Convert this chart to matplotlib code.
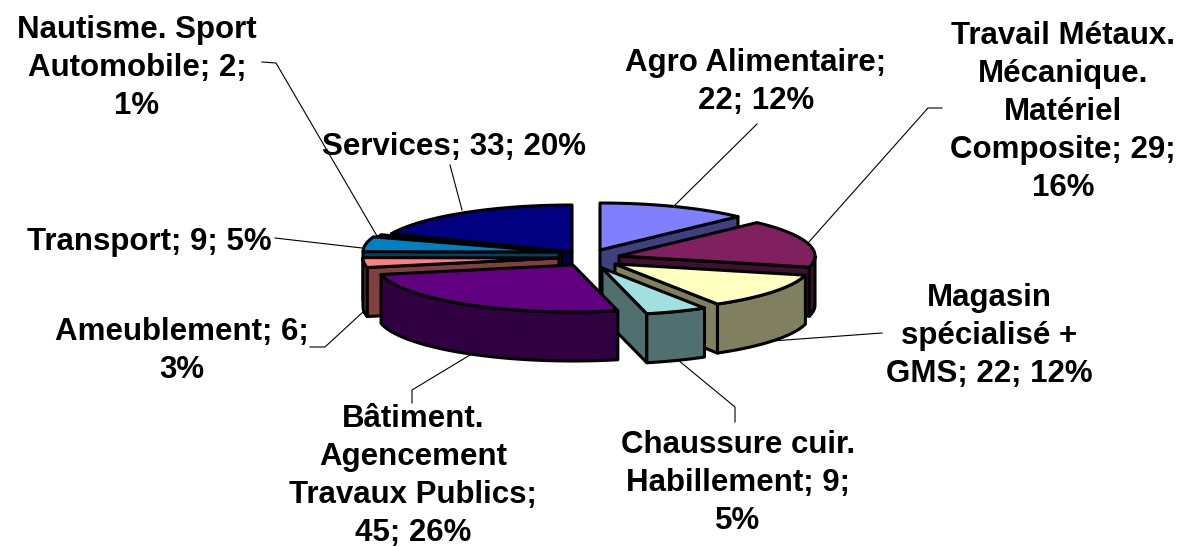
import numpy as np
import matplotlib
matplotlib.use("Agg")
import matplotlib.pyplot as plt
from matplotlib.patches import Polygon

# ---- data ----
categories = ["Agro Alimentaire", "Travail Métaux. Mécanique. Matériel Composite",
              "Magasin spécialisé + GMS", "Chaussure cuir. Habillement",
              "Bâtiment. Agencement Travaux Publics", "Ameublement", "Transport",
              "Nautisme. Sport Automobile", "Services"]
values = [22, 29, 22, 9, 45, 6, 9, 2, 33]
label_texts = ["Agro Alimentaire;\n22; 12%",
               "Travail Métaux.\nMécanique.\nMatériel\nComposite; 29;\n16%",
               "Magasin\nspécialisé +\nGMS; 22; 12%",
               "Chaussure cuir.\nHabillement; 9;\n5%",
               "Bâtiment.\nAgencement\nTravaux Publics;\n45; 26%",
               "Ameublement; 6;\n3%",
               "Transport; 9; 5%",
               "Nautisme. Sport\nAutomobile; 2;\n1%",
               "Services; 33; 20%"]

# ---- style / layout ----
top_colors = ["#8080FF", "#802060", "#FFFFC0", "#A0E0E0", "#600080", "#FF8080", "#0080C0", "#C0C0FF", "#000080"]
side_colors = ["#404080", "#401030", "#808060", "#507070", "#300040", "#804040", "#004060", "#606080", "#000040"]
apex = [(600, 250), (619, 256), (615, 264), (602, 268), (573, 265), (559, 258), (559, 252), (562, 253), (572, 252)]
label_pos = [(756, 82), (1063, 112), (989, 336), (738, 483), (413, 476), (182, 351), (149, 242), (137, 68), (454, 147)]
leaders = [[(757, 124), (673, 207)],
           [(942, 108), (928, 108), (808, 243)],
           [(882, 333), (772, 341)],
           [(735, 422), (735, 407), (678, 360)],
           [(412, 403), (412, 390), (470, 355)],
           [(310, 347), (325, 347), (363, 312)],
           [(275, 238), (362, 248)],
           [(262, 62), (276, 63), (377, 236)],
           [(450, 165), (462, 210)]]
RX, RY, DEPTH = 196, 47, 49
draw_order = [8, 7, 6, 5, 0, 1, 2, 3, 4]

fig = plt.figure(figsize=(11.85, 5.47), dpi=100)
ax = fig.add_axes([0, 0, 1, 1])
ax.set_xlim(0, 1185)
ax.set_ylim(547, 0)
ax.axis("off")

edges = np.concatenate([[0], np.cumsum(values)]) / np.sum(values) * 2 * np.pi


def rim(a, t):
    t = np.asarray(t)
    return np.column_stack([a[0] + RX * np.sin(t), a[1] - RY * np.cos(t)])


def patch(pts, color, z):
    ax.add_patch(Polygon(pts, closed=True, facecolor=color, edgecolor="black",
                         linewidth=2.2, joinstyle="round", zorder=z))


z = 2
for i in draw_order:
    a, t0, t1 = apex[i], edges[i], edges[i + 1]
    down = np.array([0, DEPTH])
    # radial walls
    if np.sin(t0) < -1e-6:
        p = rim(a, [t0])[0]
        patch([a, p, p + down, np.array(a) + down], side_colors[i], z)
        z += 1
    if np.sin(t1) > 1e-6:
        p = rim(a, [t1])[0]
        patch([a, p, p + down, np.array(a) + down], side_colors[i], z)
        z += 1
    # outer wall
    lo, hi = max(t0, np.pi / 2), min(t1, 3 * np.pi / 2)
    if hi > lo:
        arc = rim(a, np.linspace(lo, hi, 40))
        patch(np.vstack([arc, arc[::-1] + down]), side_colors[i], z)
        z += 1
    # top face
    patch(np.vstack([[a], rim(a, np.linspace(t0, t1, 60))]), top_colors[i], z)
    z += 1

for path in leaders:
    xs, ys = zip(*path)
    ax.plot(xs, ys, color="black", lw=0.8, zorder=1)

for (x, y), s in zip(label_pos, label_texts):
    ax.text(x, y, s, ha="center", va="center", multialignment="center",
            family="Liberation Sans", fontweight="bold", fontsize=22.5,
            linespacing=1.34, color="black", zorder=100)

fig.savefig("out.png", dpi=100)
